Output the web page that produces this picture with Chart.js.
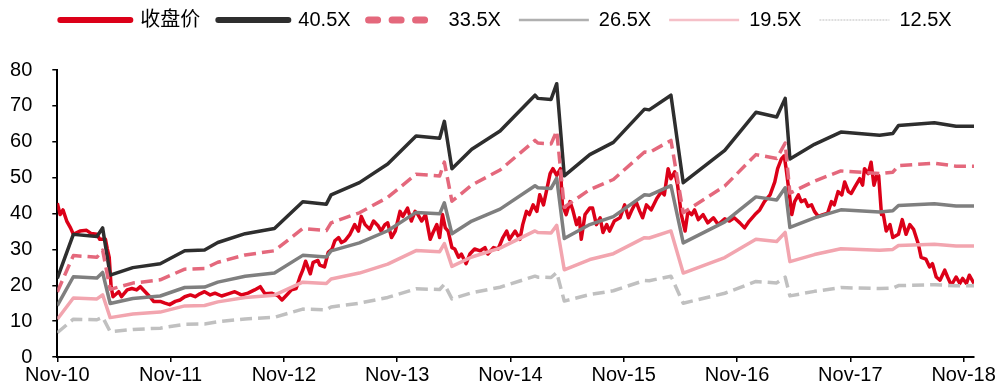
<!DOCTYPE html>
<html>
<head>
<meta charset="utf-8">
<script src="https://cdn.jsdelivr.net/npm/chart.js@4.4.1/dist/chart.umd.min.js"></script>
<style>
  html, body { margin: 0; padding: 0; background: #fff; }
  #wrap { width: 1000px; height: 389px; }
</style>
</head>
<body>
<div id="wrap"><canvas id="peBand" width="1000" height="389"></canvas></div>
<script>
// series names as shown in the legend
const seriesNames = ['收盘价', '40.5X', '33.5X', '26.5X', '19.5X', '12.5X'];
const peMultiples = [40.5, 33.5, 26.5, 19.5, 12.5];

// x axis: months since Nov-2010
const tickMonths = [0, 12, 24, 36, 48, 60, 72, 84, 96];
const tickLabels = ['Nov-10', 'Nov-11', 'Nov-12', 'Nov-13', 'Nov-14', 'Nov-15', 'Nov-16', 'Nov-17', 'Nov-18'];

// closing price
const priceMonths = [
  0.0, 0.3, 0.6, 1.0, 1.4, 1.7, 2.4, 3.1, 3.6, 4.2, 4.5, 5.1, 5.3, 5.5, 5.7, 5.9, 6.5, 6.8, 7.4, 7.9,
  8.4, 8.8, 9.3, 9.8, 10.2, 10.9, 11.4, 11.9, 12.5, 13.0, 13.5, 14.1, 14.6, 15.1, 15.6, 16.2, 16.7, 17.4, 18.1, 18.8,
  19.5, 20.2, 20.9, 21.5, 22.0, 22.7, 23.4, 23.8, 24.3, 24.8, 25.3, 25.7, 26.0, 26.3, 26.8, 27.1, 27.6, 27.8, 28.3, 28.7,
  29.1, 29.4, 29.8, 30.1, 30.5, 31.0, 31.5, 31.9, 32.2, 32.6, 33.1, 33.5, 34.0, 34.3, 34.7, 35.0, 35.4, 35.8, 36.3, 36.6,
  37.1, 37.5, 37.9, 38.2, 38.6, 39.0, 39.5, 39.8, 40.2, 40.5, 40.8, 41.1, 41.4, 41.8, 42.1, 42.5, 42.8, 43.3, 43.7, 44.2,
  44.8, 45.3, 45.6, 46.2, 46.7, 47.2, 47.6, 47.9, 48.5, 49.0, 49.3, 49.7, 50.0, 50.4, 50.8, 51.1, 51.5, 51.8, 52.2, 52.5,
  52.9, 53.3, 53.5, 53.9, 54.3, 54.6, 55.0, 55.3, 55.5, 55.9, 56.4, 56.7, 57.1, 57.5, 57.8, 58.2, 58.5, 59.0, 59.6, 60.1,
  60.5, 60.8, 61.3, 61.7, 62.0, 62.4, 62.9, 63.5, 64.0, 64.3, 64.7, 65.0, 65.4, 65.7, 66.1, 66.5, 66.8, 67.2, 67.5, 67.9,
  68.4, 68.9, 69.5, 70.0, 70.7, 71.2, 71.7, 72.3, 72.8, 73.3, 73.9, 74.4, 74.9, 75.5, 76.0, 76.3, 76.7, 77.0, 77.2, 77.6,
  77.8, 78.1, 78.5, 78.8, 79.2, 79.5, 79.9, 80.2, 80.6, 81.1, 81.6, 82.0, 82.3, 82.7, 83.1, 83.4, 83.8, 84.1, 84.5, 85.0,
  85.3, 85.5, 85.9, 86.2, 86.5, 86.8, 87.0, 87.3, 87.5, 87.8, 88.2, 88.5, 89.1, 89.5, 89.9, 90.3, 90.7, 91.2, 91.5, 92.0,
  92.4, 92.7, 93.1, 93.5, 94.0, 94.3, 94.7, 95.2, 95.6, 95.9, 96.3, 96.6, 97.1
];
const priceValues = [
  42.9, 39.7, 41.0, 37.9, 36.0, 34.2, 35.1, 35.3, 34.4, 34.2, 32.8, 32.8, 30.1, 27.8, 19.6, 16.8, 18.2, 16.8, 18.7, 19.1,
  18.7, 19.6, 18.2, 16.8, 15.5, 15.5, 15.0, 14.6, 15.5, 15.9, 16.8, 17.3, 16.8, 17.6, 18.2, 17.3, 17.8, 17.0, 17.6, 18.2,
  17.3, 17.8, 18.7, 19.6, 17.6, 17.8, 17.0, 15.9, 17.3, 18.7, 19.1, 22.3, 24.2, 26.7, 23.2, 26.4, 26.9, 25.6, 25.1, 29.2,
  30.1, 32.4, 33.3, 31.9, 32.5, 34.2, 36.9, 35.1, 39.2, 36.9, 35.6, 37.9, 36.5, 35.1, 36.9, 37.4, 33.3, 35.1, 40.6, 39.2,
  41.5, 37.9, 40.6, 39.7, 37.9, 39.7, 32.8, 34.7, 36.9, 33.3, 39.7, 36.0, 35.1, 30.5, 30.1, 27.8, 28.7, 26.0, 28.7, 30.1,
  29.6, 30.5, 28.7, 30.5, 30.1, 33.3, 35.1, 32.8, 35.1, 32.8, 36.9, 40.6, 39.7, 42.4, 40.6, 45.2, 42.4, 46.1, 51.1, 52.5,
  50.6, 52.5, 42.4, 39.7, 43.3, 41.0, 36.9, 38.8, 32.8, 39.7, 41.5, 41.5, 36.9, 38.8, 34.7, 36.9, 35.1, 37.9, 38.8, 42.4,
  38.8, 40.6, 43.3, 40.6, 38.8, 42.4, 41.0, 44.2, 46.1, 45.2, 52.5, 49.7, 51.6, 47.9, 39.7, 35.1, 40.6, 39.7, 41.0, 38.3,
  39.7, 37.4, 38.8, 36.9, 38.5, 37.9, 38.8, 37.4, 36.0, 37.9, 39.7, 41.0, 43.3, 45.2, 48.8, 52.5, 55.2, 56.1, 52.5, 44.2,
  39.7, 43.3, 45.2, 43.3, 43.8, 42.0, 42.4, 40.6, 39.2, 39.7, 40.1, 43.3, 42.4, 46.1, 45.2, 48.8, 46.1, 45.6, 47.5, 49.7,
  47.9, 52.5, 51.1, 54.3, 47.9, 50.6, 50.6, 39.7, 39.7, 35.1, 36.9, 33.3, 34.2, 38.3, 34.2, 36.9, 35.6, 31.5, 27.8, 27.3,
  25.1, 26.0, 22.3, 21.4, 24.2, 22.3, 20.0, 22.3, 20.5, 21.9, 20.5, 22.8, 20.5
];

// forward EPS behind the PE bands
const bandMonths = [
  0.0, 1.7, 4.2, 4.8, 5.6, 8.0, 10.9, 13.5, 15.6, 17.0, 19.9, 23.0, 26.0, 28.5, 29.0, 32.0,
  35.0, 38.0, 40.5, 41.0, 41.8, 43.9, 46.9, 50.6, 50.9, 52.3, 52.9, 53.7, 56.4, 58.9, 62.2, 62.7,
  65.0, 66.3, 70.7, 74.0, 76.2, 77.1, 77.6, 80.2, 83.0, 87.1, 88.5, 89.1, 92.9, 95.2, 97.1
];
const bandEps = [
  0.541, 0.844, 0.830, 0.889, 0.563, 0.615, 0.642, 0.731, 0.736, 0.788, 0.849, 0.884, 1.069, 1.052, 1.116, 1.200,
  1.328, 1.521, 1.506, 1.622, 1.296, 1.430, 1.556, 1.802, 1.780, 1.773, 1.881, 1.247, 1.393, 1.477, 1.706, 1.701,
  1.802, 1.200, 1.422, 1.684, 1.652, 1.780, 1.363, 1.464, 1.548, 1.526, 1.538, 1.593, 1.612, 1.588, 1.588
];

// styles for plot lines and for the legend samples
const lineStyles = [
  { color: '#dc0018', width: 3.5, dash: [] },
  { color: '#2e2e2e', width: 3.5, dash: [] },
  { color: '#e4687c', width: 3.5, dash: [12, 6] },
  { color: '#7f7f7f', width: 3.5, dash: [] },
  { color: '#f2a5af', width: 3.5, dash: [] },
  { color: '#c0c0c0', width: 3.5, dash: [12, 6] }
];
const legendStyles = [
  { color: '#dc0018', width: 6, dash: [], cap: 'round' },
  { color: '#2e2e2e', width: 6, dash: [], cap: 'round' },
  { color: '#e4687c', width: 7, dash: [9, 14.5], cap: 'round' },
  { color: '#b0b0b0', width: 2.5, dash: [], cap: 'butt' },
  { color: '#f5c0c8', width: 2.5, dash: [], cap: 'butt' },
  { color: '#d4d4d4', width: 1.5, dash: [2, 1], cap: 'butt' }
];

const FONT = { family: "Arial, 'Liberation Sans', 'Noto Sans CJK SC', sans-serif", size: 20 };

const datasets = [{
  label: seriesNames[0],
  data: priceMonths.map((m, i) => ({ x: m, y: priceValues[i] })),
  borderColor: lineStyles[0].color,
  borderWidth: lineStyles[0].width,
  order: 6
}];
peMultiples.forEach((pe, k) => {
  const st = lineStyles[k + 1];
  datasets.push({
    label: seriesNames[k + 1],
    data: bandMonths.map((m, i) => ({ x: m, y: +(bandEps[i] * pe).toFixed(2) })),
    borderColor: st.color,
    borderWidth: st.width,
    borderDash: st.dash,
    order: 5 - k
  });
});

// fixed legend height (so the plot starts lower) and a small sideways shift of the legend row
const legendTweak = {
  id: 'legendTweak',
  beforeInit(chart) {
    const legend = chart.legend;
    const fit = legend.fit;
    legend.fit = function () {
      fit.call(this);
      this.height = 78;
    };
    const draw = legend.draw;
    legend.draw = function () {
      this.left += 19;
      this.right += 19;
      draw.call(this);
      this.left -= 19;
      this.right -= 19;
    };
  }
};

const axisGrid = { drawOnChartArea: false, drawTicks: true, tickLength: 5, color: '#000', lineWidth: 1.5 };

new Chart(document.getElementById('peBand'), {
  type: 'line',
  data: { datasets },
  plugins: [legendTweak],
  options: {
    responsive: false,
    animation: false,
    devicePixelRatio: 1,
    layout: { padding: { top: -8, left: 0, right: 26, bottom: 0 } },
    elements: {
      point: { radius: 0 },
      line: { tension: 0, borderJoinStyle: 'round', fill: false }
    },
    plugins: {
      tooltip: { enabled: false },
      legend: {
        position: 'top',
        labels: {
          font: FONT,
          color: '#000',
          padding: 18,
          usePointStyle: true,
          pointStyleWidth: 70,
          generateLabels: () => seriesNames.map((name, i) => ({
            text: name,
            datasetIndex: i,
            hidden: false,
            pointStyle: 'line',
            fillStyle: legendStyles[i].color,
            strokeStyle: legendStyles[i].color,
            lineWidth: legendStyles[i].width,
            lineDash: legendStyles[i].dash,
            lineCap: legendStyles[i].cap,
            fontColor: '#000'
          }))
        }
      }
    },
    scales: {
      x: {
        type: 'linear',
        min: 0,
        max: 97.1,
        afterBuildTicks: (scale) => { scale.ticks = tickMonths.map(v => ({ value: v })); },
        afterFit: (scale) => { scale.height = 27.5; },
        grid: axisGrid,
        border: { display: true, color: '#000', width: 2 },
        ticks: {
          autoSkip: false,
          maxRotation: 0,
          padding: 1,
          color: '#000',
          font: FONT,
          callback: (v) => tickLabels[tickMonths.indexOf(v)]
        }
      },
      y: {
        min: 0,
        max: 80,
        afterFit: (scale) => { scale.width = 57.3; },
        grid: axisGrid,
        border: { display: true, color: '#000', width: 2 },
        ticks: { stepSize: 10, padding: 20, color: '#000', font: FONT }
      }
    }
  }
});
</script>
</body>
</html>
